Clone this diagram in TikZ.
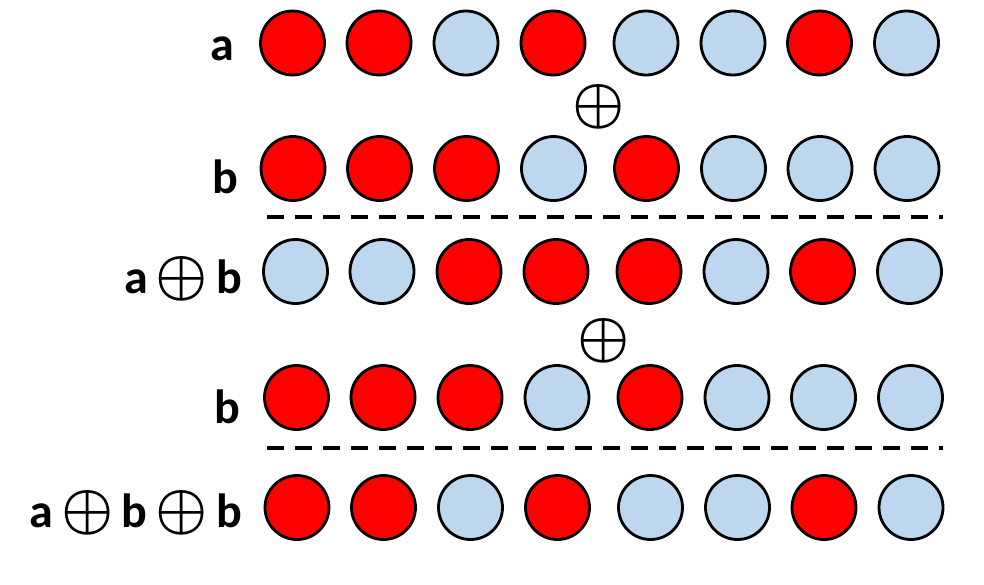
\documentclass[tikz,border=0pt]{standalone}
\usepackage{fontspec}
\usepackage{graphicx}
\setmainfont{Carlito}
\definecolor{bitred}{RGB}{255,0,0}
\definecolor{bitblue}{RGB}{189,215,238}
\newcommand{\xo}{\scalebox{5.85}{\fontsize{10}{12}\selectfont\boldmath$\oplus$}}
\begin{document}
\begin{tikzpicture}[x=1pt,y=-1pt,
  bit/.style={circle,draw=black,line width=2.8pt,minimum size=64pt,inner sep=0pt},
  one/.style={bit,fill=bitred},
  zero/.style={bit,fill=bitblue},
  lbl/.style={anchor=base east,inner sep=0pt,font=\fontsize{48}{48}\selectfont\bfseries},
  op/.style={inner sep=0pt},
  sep/.style={line width=3.5pt,dash pattern=on 17pt off 11pt}]
\useasboundingbox (0,0) rectangle (984,584);
% x positions of the eight bits
\def\xs{292.5,379,466,553,646,733,819.5,906.5}
% row 1 : a
\foreach \c [count=\i] in {one,one,zero,one,zero,zero,one,zero}{
  \pgfmathsetmacro\xx{{\xs}[\i-1]}
  \node[\c] (a\i) at (\xx,43) {};}
% row 2 : b
\foreach \c [count=\i] in {one,one,one,zero,one,zero,zero,zero}{
  \pgfmathsetmacro\xx{{\xs}[\i-1]+0.5}
  \node[\c] (b\i) at (\xx,168.5) {};}
% row 3 : a xor b
\foreach \c [count=\i] in {zero,zero,one,one,one,zero,one,zero}{
  \pgfmathsetmacro\xx{{\xs}[\i-1]+3}
  \node[\c] (c\i) at (\xx,271.5) {};}
% row 4 : b
\foreach \c [count=\i] in {one,one,one,zero,one,zero,zero,zero}{
  \pgfmathsetmacro\xx{{\xs}[\i-1]+4}
  \node[\c] (d\i) at (\xx,397.5) {};}
% row 5 : a xor b xor b
\foreach \c [count=\i] in {one,one,zero,one,zero,zero,one,zero}{
  \pgfmathsetmacro\xx{{\xs}[\i-1]+4.5}
  \node[\c] (e\i) at (\xx,507.5) {};}
% labels
\node[lbl] (la) at (234,60) {a};
\node[lbl] (lb) at (238,193) {b};
\node[lbl] (lc) at (242,293) {a\hspace{8pt}\xo\hspace{8pt}b};
\node[lbl] (ld) at (240,423) {b};
\node[lbl] (le) at (242,527) {a\hspace{8pt}\xo\hspace{8pt}b\hspace{8pt}\xo\hspace{8pt}b};
% operators
\node[op] (op1) at (599,107) {\xo};
\node[op] (op2) at (603.5,340.5) {\xo};
% separators
\coordinate (s1l) at (267,217);
\coordinate (s1r) at (943,217);
\coordinate (s2l) at (267,448);
\coordinate (s2r) at (943,448);
\draw[sep] (s1l) -- (s1r);
\draw[sep] (s2l) -- (s2r);
\end{tikzpicture}
\end{document}
